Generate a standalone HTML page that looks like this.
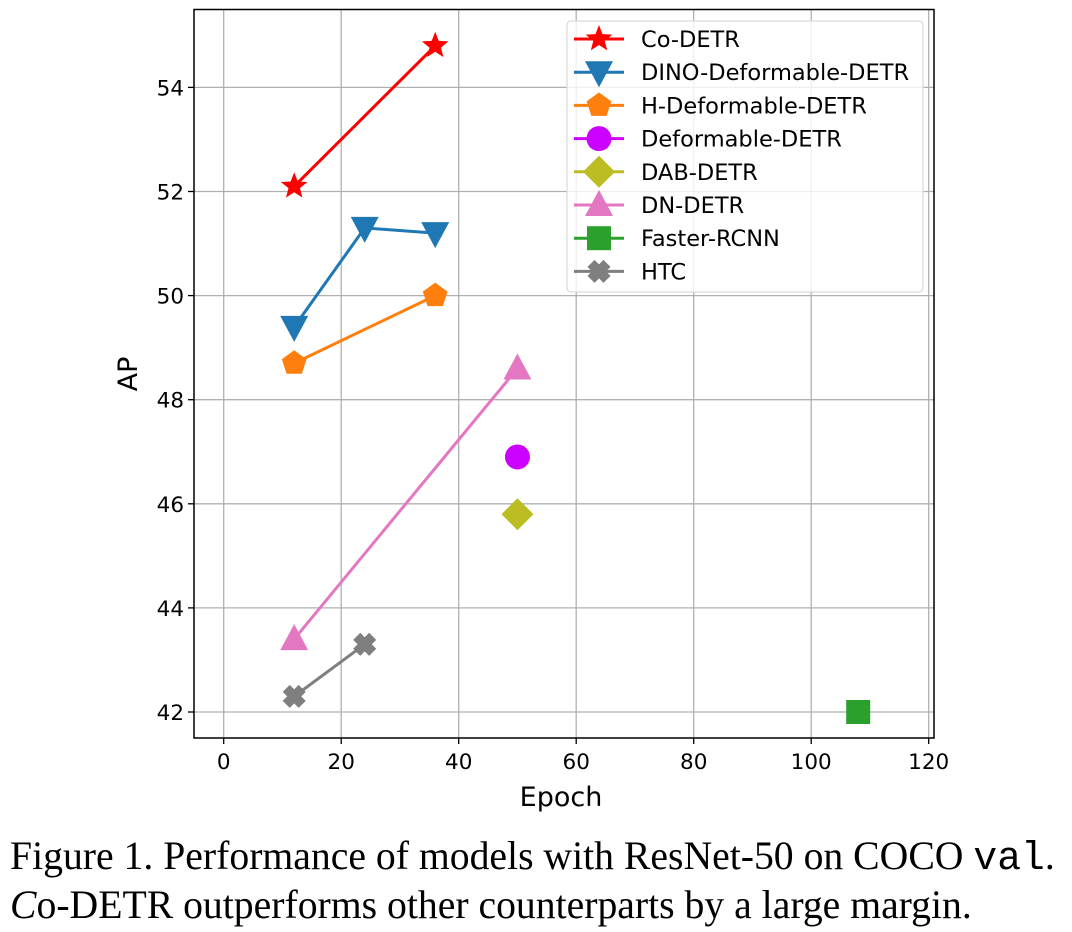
<!DOCTYPE html>
<html><head><meta charset="utf-8"><style>
body{margin:0;background:#fff;width:1072px;height:932px;overflow:hidden;position:relative}
svg{display:block}
.cap{position:absolute;left:10px;font-family:"Liberation Serif",serif;font-size:39.7px;line-height:48px;color:#000;white-space:nowrap}
</style></head><body>
<svg id="chart" width="1072" height="830" xmlns="http://www.w3.org/2000/svg" font-family="DejaVu Sans, Liberation Sans, sans-serif"></svg>
<div class="cap" style="top:832px">Figure 1. Performance of models with ResNet-50 on COCO <span style="font-family:'Liberation Mono',monospace">val</span>.</div>
<div class="cap" style="top:881px"><i>C</i>o-DETR outperforms other counterparts by a large margin.</div>
<script>
const names=["Co-DETR","DINO-Deformable-DETR","H-Deformable-DETR","Deformable-DETR","DAB-DETR","DN-DETR","Faster-RCNN","HTC"];
const colors=["#ff0000","#1f77b4","#ff7f0e","#cc00ff","#bcbd22","#e377c2","#2ca02c","#7f7f7f"];
const markers=["star","tri-down","pentagon","circle","diamond","tri-up","square","x"];
const epochs=[[12,36],[12,24,36],[12,36],[50],[50],[12,50],[108],[12,24]];
const aps=[[52.1,54.8],[49.4,51.3,51.2],[48.7,50.0],[46.9],[45.8],[43.4,48.6],[42.0],[42.3,43.3]];
const xTicks=[0,20,40,60,80,100,120];
const yTicks=[42,44,46,48,50,52,54];
const L=194,R=934,T=9.5,B=738;
const X=v=>223.7+v*5.875;
const Y=v=>712-(v-42)*52.05;
const svg=document.getElementById('chart');
const NS="http://www.w3.org/2000/svg";
function mk(tag,attrs,parent){const e=document.createElementNS(NS,tag);for(const k in attrs)e.setAttribute(k,attrs[k]);(parent||svg).appendChild(e);return e;}
xTicks.forEach(t=>{
 const g=mk('line',{x1:X(t),x2:X(t),y1:T,y2:B,stroke:'#b0b0b0','stroke-width':1.3});
 
 
 mk('line',{x1:X(t),x2:X(t),y1:B,y2:B+6,stroke:'#000','stroke-width':1.3});
 const tx=mk('text',{x:X(t),y:B+31,'text-anchor':'middle','font-size':21.5});tx.textContent=t;
 
 
});
yTicks.forEach(t=>{
 const g=mk('line',{x1:L,x2:R,y1:Y(t),y2:Y(t),stroke:'#b0b0b0','stroke-width':1.3});
 
 
 mk('line',{x1:L-6,x2:L,y1:Y(t),y2:Y(t),stroke:'#000','stroke-width':1.3});
 const tx=mk('text',{x:L-10,y:Y(t)+8,'text-anchor':'end','font-size':21.5});tx.textContent=t;
 
 
});
const fr=mk('rect',{x:L,y:T,width:R-L,height:B-T,fill:'none',stroke:'#000','stroke-width':1.5});


const xl=mk('text',{x:(L+R)/2-3,y:806,'text-anchor':'middle','font-size':27});xl.textContent='Epoch';


const yl=mk('text',{x:137,y:374,'text-anchor':'middle','font-size':27,transform:'rotate(-90 137 374)'});yl.textContent='AP';


function marker(type,cx,cy,c,p){
 const r=14;let pts;
 const poly=a=>mk('polygon',{points:a.map(q=>(cx+q[0])+','+(cy+q[1])).join(' '),fill:c},p);
 if(type==='circle')return mk('circle',{cx,cy,r:12.5,fill:c},p);
 if(type==='square')return mk('rect',{x:cx-12,y:cy-12,width:24,height:24,fill:c},p);
 if(type==='diamond')return poly([[0,-16],[16,0],[0,16],[-16,0]]);
 if(type==='tri-down')return poly([[-14,-11],[14,-11],[0,15]]);
 if(type==='tri-up')return poly([[-14,11],[14,11],[0,-15]]);
 if(type==='pentagon'){pts=[];for(let i=0;i<5;i++){const a=-Math.PI/2+i*2*Math.PI/5;pts.push([13*Math.cos(a),13*Math.sin(a)]);}return poly(pts);}
 if(type==='star'){pts=[];for(let i=0;i<10;i++){const a=-Math.PI/2+i*Math.PI/5;const rr=i%2?6:r;pts.push([rr*Math.cos(a),rr*Math.sin(a)]);}return poly(pts);}
 if(type==='x'){const g=mk('g',{},p);mk('line',{x1:cx-8,y1:cy-8,x2:cx+8,y2:cy+8,stroke:c,'stroke-width':10},g);mk('line',{x1:cx-8,y1:cy+8,x2:cx+8,y2:cy-8,stroke:c,'stroke-width':10},g);return g;}
}
names.forEach((n,i)=>{
 const g=mk('g',{});
 
 
 const pts=epochs[i].map((e,j)=>X(e)+','+Y(aps[i][j])).join(' ');
 if(epochs[i].length>1)mk('polyline',{points:pts,fill:'none',stroke:colors[i],'stroke-width':3},g);
 epochs[i].forEach((e,j)=>{const m=marker(markers[i],X(e),Y(aps[i][j]),colors[i],g);
  
  });
});
const lg=mk('g',{});


mk('rect',{x:567,y:21,width:356,height:271,rx:4,fill:'#fff','fill-opacity':0.8,stroke:'#d9d9d9','stroke-width':1.2},lg);
names.forEach((n,i)=>{
 const y=39+i*33.2;
 const e=mk('g',{},lg);
 
 
 mk('line',{x1:574,x2:624,y1:y,y2:y,stroke:colors[i],'stroke-width':3},e);
 marker(markers[i],599,y,colors[i],e);
 const t=mk('text',{x:641,y:y+8,'font-size':22.5},e);t.textContent=n;
});
</script>
</body></html>
